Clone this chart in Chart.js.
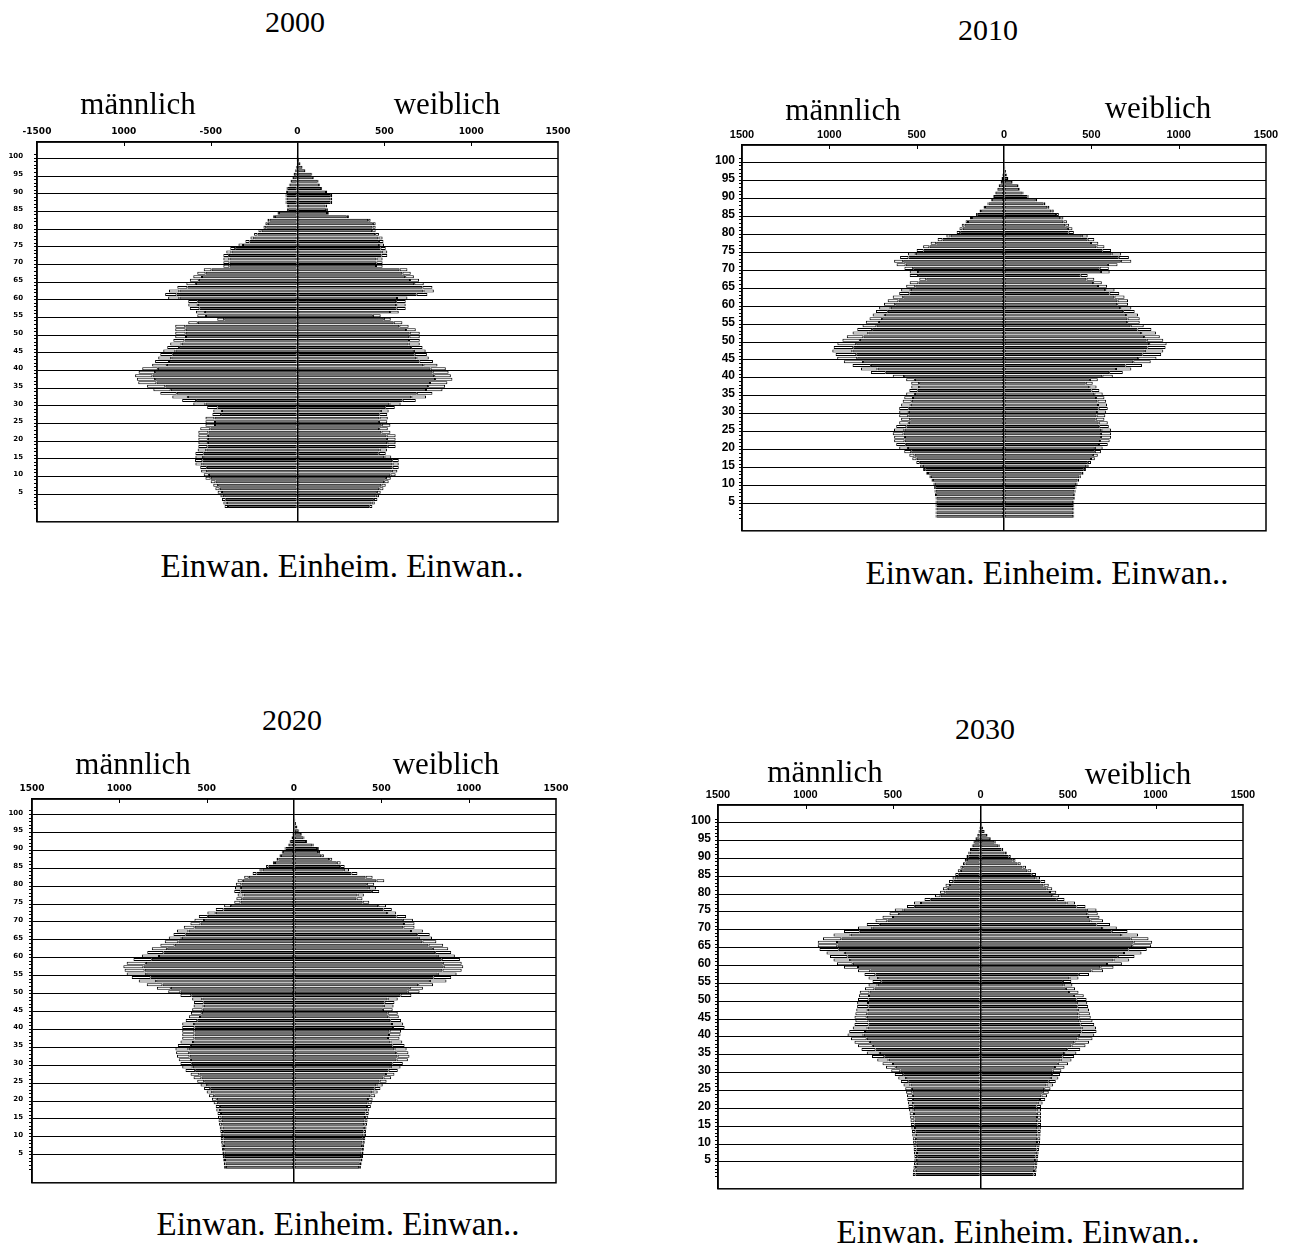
<!DOCTYPE html>
<html>
<head>
<meta charset="utf-8">
<script src="https://cdn.jsdelivr.net/npm/chart.js@4.4.1/dist/chart.umd.min.js"></script>
<style>
  html, body { margin: 0; padding: 0; background: #fff; }
  body { width: 1294px; height: 1248px; position: relative; overflow: hidden;
         font-family: "Liberation Serif", "DejaVu Serif", serif; color: #000; }
  .txt { position: absolute; transform: translate(-50%, -50%); white-space: nowrap; line-height: 1; }
  .year { font-size: 30px; }
  .sex { font-size: 31px; }
  .cap { font-size: 33px; }
  canvas { position: absolute; }
</style>
</head>
<body>
<script>
// Age groups, one bar per year of age
const ages = Array.from({ length: 100 }, (_, i) => i + 1);

// Axis tick values and their printed labels
const xTickValues = [-1500, -1000, -500, 0, 500, 1000, 1500];
const xTickLabels2000 = ['-1500', '1000', '-500', '0', '500', '1000', '1500'];
const xTickLabels = ['1500', '1000', '500', '0', '500', '1000', '1500'];

const years = ['2000', '2010', '2020', '2030'];
const sideLabels = ['männlich', 'weiblich'];
const caption = 'Einwan. Einheim. Einwan..';

// ---------- 2000 ----------
const maleTotal2000 = [
  420, 427, 435, 444, 460, 473, 485, 500, 530, 540,
  555, 560, 588, 590, 588, 588, 575, 571, 571, 571,
  571, 571, 560, 530, 530, 530, 490, 485, 520, 600,
  664, 721, 790, 830, 866, 917, 925, 935, 915, 894,
  837, 820, 802, 790, 773, 750, 733, 715, 704, 704,
  704, 704, 629, 462, 577, 585, 620, 629, 629, 745,
  762, 740, 692, 640, 620, 600, 577, 540, 427, 427,
  427, 427, 410, 387, 340, 300, 271, 250, 225, 196,
  185, 173, 140, 115, 60, 62, 69, 69, 69, 66,
  63, 50, 40, 30, 23, 15, 10, 6, 4, 2
];
const maleEinwan2000 = [
  20, 20, 22, 22, 25, 25, 28, 28, 30, 30,
  35, 38, 40, 42, 45, 48, 50, 52, 55, 55,
  55, 58, 58, 55, 55, 52, 50, 50, 60, 70,
  80, 90, 95, 100, 105, 105, 105, 100, 95, 90,
  85, 80, 75, 72, 70, 68, 66, 64, 62, 60,
  60, 58, 55, 40, 50, 52, 55, 55, 55, 65,
  65, 60, 58, 55, 52, 50, 48, 45, 35, 35,
  35, 32, 30, 28, 26, 24, 22, 20, 18, 16,
  14, 12, 10, 8, 6, 6, 6, 6, 5, 5,
  4, 4, 3, 3, 2, 2, 1, 1, 1, 0
];
const femaleTotal2000 = [
  431, 445, 460, 470, 479, 495, 508, 525, 537, 565,
  575, 583, 583, 583, 540, 508, 515, 565, 565, 565,
  565, 535, 520, 535, 517, 520, 517, 525, 560, 594,
  681, 740, 777, 835, 850, 863, 892, 883, 870, 854,
  806, 780, 756, 745, 738, 720, 704, 704, 704, 704,
  681, 640, 604, 537, 479, 583, 623, 623, 623, 633,
  748, 785, 777, 727, 700, 670, 652, 633, 490, 490,
  490, 517, 517, 508, 498, 495, 490, 469, 450, 450,
  450, 421, 296, 180, 175, 171, 200, 200, 200, 171,
  142, 130, 121, 95, 85, 46, 30, 18, 10, 4
];
const femaleEinwan2000 = [
  18, 18, 20, 20, 22, 24, 25, 26, 28, 30,
  32, 35, 36, 38, 40, 40, 42, 45, 48, 50,
  52, 52, 50, 50, 48, 48, 46, 45, 55, 65,
  75, 85, 90, 95, 98, 100, 100, 96, 92, 88,
  82, 78, 72, 70, 68, 66, 64, 62, 60, 58,
  56, 54, 50, 40, 45, 50, 52, 55, 55, 60,
  62, 60, 58, 55, 52, 50, 48, 45, 38, 36,
  35, 34, 32, 30, 28, 26, 24, 22, 20, 18,
  16, 14, 12, 10, 10, 9, 9, 9, 8, 7,
  6, 5, 4, 4, 3, 2, 2, 1, 1, 0
];

// ---------- 2010 ----------
const maleTotal2010 = [
  392, 392, 392, 392, 392, 392, 395, 398, 400, 404,
  415, 427, 445, 463, 480, 502, 525, 542, 571, 600,
  617, 629, 629, 637, 630, 617, 600, 589, 600, 600,
  600, 589, 580, 571, 560, 542, 531, 531, 560, 637,
  762, 819, 867, 917, 955, 964, 983, 975, 954, 925,
  900, 867, 840, 810, 791, 770, 752, 733, 715, 687,
  666, 637, 600, 589, 560, 540, 485, 540, 540, 570,
  615, 629, 595, 550, 500, 463, 420, 380, 330, 271,
  255, 242, 220, 195, 160, 140, 117, 95, 75, 62,
  52, 40, 31, 20, 15, 10, 6, 4, 2, 1
];
const maleEinwan2010 = [
  5, 5, 5, 5, 5, 5, 6, 6, 6, 7,
  8, 8, 10, 12, 15, 20, 25, 30, 40, 50,
  55, 60, 62, 62, 60, 58, 55, 52, 52, 55,
  55, 55, 52, 50, 50, 48, 45, 45, 50, 65,
  85, 95, 105, 110, 115, 118, 115, 112, 108, 100,
  95, 90, 85, 80, 75, 72, 70, 68, 66, 64,
  62, 60, 58, 55, 52, 50, 40, 48, 48, 50,
  52, 52, 48, 45, 40, 36, 32, 28, 24, 20,
  18, 16, 14, 12, 10, 9, 8, 6, 5, 4,
  3, 3, 2, 2, 1, 1, 1, 0, 0, 0
];
const femaleTotal2010 = [
  402, 402, 402, 402, 402, 405, 408, 410, 415, 421,
  430, 440, 455, 469, 485, 498, 520, 537, 555, 565,
  594, 605, 613, 613, 613, 600, 594, 575, 580, 585,
  594, 590, 585, 575, 565, 546, 530, 508, 537, 623,
  680, 729, 790, 840, 873, 900, 912, 925, 931, 912,
  892, 870, 844, 800, 777, 777, 767, 748, 729, 710,
  710, 690, 660, 633, 590, 560, 517, 479, 605, 600,
  650, 729, 715, 671, 613, 575, 540, 517, 479, 400,
  392, 373, 360, 340, 314, 285, 260, 237, 190, 141,
  112, 90, 83, 50, 25, 18, 12, 8, 5, 3
];
const femaleEinwan2010 = [
  5, 5, 5, 5, 5, 5, 6, 6, 6, 7,
  8, 8, 10, 12, 14, 18, 22, 28, 35, 45,
  50, 55, 58, 58, 56, 55, 52, 50, 50, 52,
  52, 52, 50, 48, 48, 45, 42, 40, 45, 60,
  78, 88, 95, 100, 105, 108, 106, 104, 100, 95,
  90, 85, 80, 75, 72, 70, 68, 66, 64, 62,
  60, 58, 56, 54, 52, 50, 45, 40, 50, 52,
  55, 60, 58, 55, 50, 46, 42, 38, 34, 30,
  26, 22, 20, 18, 16, 14, 12, 10, 8, 6,
  5, 4, 3, 3, 2, 2, 1, 1, 0, 0
];

// ---------- 2020 ----------
const maleTotal2020 = [
  400, 402, 405, 408, 410, 412, 415, 417, 419, 420,
  422, 425, 429, 432, 435, 438, 445, 448, 460, 470,
  487, 500, 515, 535, 554, 575, 592, 621, 640, 650,
  660, 670, 675, 679, 665, 650, 640, 640, 640, 640,
  640, 620, 602, 590, 583, 575, 573, 583, 650, 720,
  785, 843, 889, 929, 958, 970, 977, 958, 919, 871,
  840, 814, 765, 740, 717, 690, 670, 631, 593, 570,
  545, 496, 448, 400, 342, 330, 323, 342, 338, 333,
  323, 285, 237, 198, 160, 121, 100, 83, 70, 54,
  35, 25, 15, 10, 6, 4, 3, 2, 1, 1
];
const maleEinwan2020 = [
  10, 10, 10, 12, 12, 12, 14, 14, 15, 15,
  16, 16, 18, 18, 20, 20, 22, 24, 26, 28,
  30, 32, 35, 38, 40, 45, 50, 55, 60, 65,
  70, 72, 75, 75, 75, 72, 70, 70, 70, 70,
  68, 66, 64, 62, 60, 58, 56, 58, 62, 70,
  80, 90, 100, 108, 112, 115, 115, 110, 105, 98,
  92, 88, 82, 78, 74, 70, 66, 62, 58, 55,
  52, 48, 44, 40, 36, 34, 34, 36, 34, 32,
  30, 26, 22, 18, 15, 12, 10, 8, 6, 5,
  4, 3, 2, 2, 1, 1, 1, 0, 0, 0
];
const femaleTotal2020 = [
  383, 387, 392, 395, 398, 400, 402, 405, 408, 412,
  412, 415, 418, 421, 425, 428, 431, 440, 445, 450,
  465, 479, 495, 508, 530, 556, 575, 594, 610, 623,
  652, 661, 655, 645, 633, 620, 604, 610, 613, 633,
  625, 613, 600, 594, 565, 570, 575, 594, 672, 719,
  738, 796, 873, 900, 931, 960, 969, 960, 950, 921,
  900, 883, 854, 815, 790, 777, 738, 690, 690, 681,
  642, 585, 560, 527, 431, 392, 400, 488, 470, 459,
  517, 450, 363, 315, 290, 267, 219, 171, 150, 142,
  113, 75, 60, 46, 30, 20, 12, 8, 5, 3
];
const femaleEinwan2020 = [
  10, 10, 10, 11, 11, 12, 12, 13, 14, 14,
  15, 15, 16, 17, 18, 19, 20, 22, 24, 26,
  28, 30, 33, 36, 40, 44, 48, 52, 56, 60,
  65, 68, 70, 70, 70, 68, 66, 66, 66, 66,
  64, 62, 60, 58, 56, 56, 56, 58, 62, 68,
  75, 85, 95, 102, 108, 110, 112, 108, 104, 98,
  92, 88, 84, 80, 76, 72, 68, 64, 60, 58,
  55, 52, 48, 45, 38, 34, 36, 42, 42, 42,
  45, 40, 34, 30, 26, 22, 18, 15, 12, 10,
  8, 6, 5, 4, 3, 2, 1, 1, 0, 0
];

// ---------- 2030 ----------
const maleTotal2030 = [
  387, 385, 383, 380, 378, 378, 380, 382, 383, 385,
  387, 390, 392, 395, 398, 400, 402, 405, 408, 412,
  415, 418, 420, 425, 430, 440, 455, 470, 490, 510,
  540, 560, 590, 620, 650, 680, 700, 720, 740, 760,
  750, 730, 720, 715, 720, 715, 710, 705, 705, 700,
  695, 690, 660, 640, 617, 640, 663, 700, 780, 820,
  840, 860, 880, 920, 930, 930, 900, 840, 780, 700,
  650, 600, 560, 520, 490, 420, 380, 320, 260, 231,
  215, 200, 180, 160, 144, 130, 115, 100, 90, 80,
  70, 60, 50, 40, 30, 20, 12, 8, 4, 2
];
const maleEinwan2030 = [
  15, 15, 15, 16, 16, 16, 17, 17, 18, 18,
  19, 20, 20, 21, 22, 23, 24, 25, 26, 28,
  30, 32, 34, 36, 38, 40, 42, 45, 48, 52,
  56, 60, 65, 70, 75, 80, 85, 88, 90, 92,
  90, 85, 80, 75, 70, 68, 66, 64, 62, 60,
  58, 56, 54, 52, 50, 55, 62, 70, 80, 90,
  95, 100, 105, 110, 112, 110, 105, 98, 90, 82,
  75, 68, 60, 55, 50, 45, 40, 36, 32, 30,
  28, 26, 24, 22, 20, 18, 16, 14, 12, 10,
  8, 6, 5, 4, 3, 2, 1, 1, 0, 0
];
const femaleTotal2030 = [
  317, 320, 322, 325, 327, 330, 332, 335, 337, 340,
  342, 343, 344, 345, 346, 346, 346, 346, 346, 346,
  355, 370, 380, 390, 400, 415, 430, 445, 455, 462,
  480, 500, 520, 535, 548, 570, 600, 620, 640, 650,
  663, 660, 650, 640, 630, 625, 620, 615, 610, 606,
  590, 560, 540, 525, 519, 560, 620, 700, 760, 808,
  850, 880, 920, 950, 975, 981, 960, 900, 840, 779,
  740, 700, 680, 670, 663, 600, 540, 480, 450, 433,
  410, 390, 370, 340, 317, 290, 260, 230, 200, 173,
  150, 130, 110, 87, 60, 40, 25, 15, 8, 3
];
const femaleEinwan2030 = [
  14, 14, 14, 15, 15, 15, 16, 16, 17, 17,
  18, 18, 19, 20, 21, 22, 23, 24, 25, 26,
  28, 30, 32, 34, 36, 38, 40, 43, 46, 50,
  54, 58, 62, 66, 70, 75, 80, 84, 86, 88,
  86, 82, 78, 74, 70, 66, 64, 62, 60, 58,
  56, 54, 52, 50, 48, 52, 58, 66, 75, 85,
  90, 95, 100, 105, 108, 106, 102, 96, 90, 84,
  78, 72, 66, 60, 56, 52, 48, 44, 40, 36,
  32, 30, 28, 26, 24, 22, 20, 18, 16, 14,
  12, 10, 8, 6, 4, 3, 2, 1, 1, 0
];

// Series grouped per year (built from the arrays above)
const seriesByYear = {
  '2000': { mT: maleTotal2000, mE: maleEinwan2000, fT: femaleTotal2000, fE: femaleEinwan2000, xl: xTickLabels2000 },
  '2010': { mT: maleTotal2010, mE: maleEinwan2010, fT: femaleTotal2010, fE: femaleEinwan2010, xl: xTickLabels },
  '2020': { mT: maleTotal2020, mE: maleEinwan2020, fT: femaleTotal2020, fE: femaleEinwan2020, xl: xTickLabels },
  '2030': { mT: maleTotal2030, mE: maleEinwan2030, fT: femaleTotal2030, fE: femaleEinwan2030, xl: xTickLabels }
};

// Page layout of the four pyramids: plot box [left, top, right, bottom], age range, text anchors
const layout = {
  '2000': { box: [37, 142, 558, 527], yMin: -2.8, yMax: 103.6, title: [295, 22], m: [138, 103], w: [447, 103], cap: [342, 566],
            xFont: 9, yFont: 7, xFam: 'DejaVu Sans', yPad: 11, xPad: 5 },
  '2010': { box: [742, 145, 1266, 532], yMin: -2.5, yMax: 103.8, title: [988, 30], m: [843, 109], w: [1158, 107], cap: [1047, 573],
            xFont: 11, yFont: 12, xFam: 'Liberation Sans', yPad: 4, xPad: 3 },
  '2020': { box: [32, 799, 556, 1183], yMin: -2.8, yMax: 103.3, title: [292, 720], m: [133, 763], w: [446, 763], cap: [338, 1224],
            xFont: 9, yFont: 7, xFam: 'DejaVu Sans', yPad: 6, xPad: 5 },
  '2030': { box: [718, 805, 1243, 1190], yMin: -2.5, yMax: 103.9, title: [985, 729], m: [825, 771], w: [1138, 773], cap: [1018, 1232],
            xFont: 11, yFont: 12, xFam: 'Liberation Sans', yPad: 4, xPad: 3 }
};

function addText(cls, text, pos) {
  const d = document.createElement('div');
  d.className = 'txt ' + cls;
  d.textContent = text;
  d.style.left = pos[0] + 'px';
  d.style.top = pos[1] + 'px';
  document.body.appendChild(d);
}

// Frame round the plot and short inner marks under the top axis
const framePlugin = {
  id: 'frame',
  afterDraw(chart) {
    const { ctx, chartArea: a, scales: { x } } = chart;
    ctx.save();
    ctx.strokeStyle = '#000';
    ctx.lineWidth = 1.5;
    ctx.strokeRect(a.left, a.top, a.right - a.left, a.bottom - a.top);
    ctx.lineWidth = 1;
    [-1000, -500, 500, 1000].forEach(v => {
      const px = Math.round(x.getPixelForValue(v)) + 0.5;
      ctx.beginPath();
      ctx.moveTo(px, a.top);
      ctx.lineTo(px, a.top + 4);
      ctx.stroke();
    });
    ctx.restore();
  }
};

function buildPyramid(year) {
  const s = seriesByYear[year];
  const L = layout[year];
  const padL = 50, padT = 30, padR = 30, padB = 10;
  const [l, t, r, b] = L.box;
  const W = (r - l) + padL + padR;
  const H = (b - t) + padT + padB;

  const cv = document.createElement('canvas');
  cv.width = W; cv.height = H;
  cv.style.left = (l - padL) + 'px';
  cv.style.top = (t - padT) + 'px';
  cv.style.width = W + 'px';
  cv.style.height = H + 'px';
  document.body.appendChild(cv);

  // native part shaded, immigrant end boxes open
  const nativeStyle = {
    backgroundColor: '#5e5e5e',
    borderColor: '#000000',
    borderWidth: 1,
    borderSkipped: false,
    categoryPercentage: 0.84,
    barPercentage: 1.0
  };
  const immigrantStyle = Object.assign({}, nativeStyle, { backgroundColor: '#ffffff' });

  new Chart(cv, {
    type: 'bar',
    data: {
      labels: ages,
      datasets: [
        Object.assign({ label: 'Einheim. männlich', data: s.mT.map((v, i) => -(v - s.mE[i])) }, nativeStyle),
        Object.assign({ label: 'Einwan. männlich', data: s.mE.map(v => -v) }, immigrantStyle),
        Object.assign({ label: 'Einheim. weiblich', data: s.fT.map((v, i) => v - s.fE[i]) }, nativeStyle),
        Object.assign({ label: 'Einwan. weiblich', data: s.fE.slice() }, immigrantStyle)
      ]
    },
    options: {
      responsive: false,
      animation: false,
      indexAxis: 'y',
      layout: { padding: { left: 0, top: 0, right: padR, bottom: padB } },
      plugins: { legend: { display: false }, tooltip: { enabled: false } },
      scales: {
        x: {
          type: 'linear',
          position: 'top',
          stacked: true,
          min: -1500,
          max: 1500,
          z: 1,
          afterFit: sc => { sc.height = padT; },
          afterBuildTicks: sc => { sc.ticks = xTickValues.map(v => ({ value: v })); },
          ticks: {
            color: '#000',
            padding: L.xPad,
            maxRotation: 0,
            autoSkip: false,
            font: { family: L.xFam, size: L.xFont, weight: 'bold' },
            callback: v => s.xl[xTickValues.indexOf(v)]
          },
          grid: {
            drawTicks: false,
            lineWidth: 1.5,
            color: c => (c.tick && c.tick.value === 0) ? '#000' : 'rgba(0,0,0,0)'
          },
          border: { display: true, color: '#000', width: 1.5 }
        },
        y: {
          type: 'linear',
          stacked: true,
          min: L.yMin,
          max: L.yMax,
          afterFit: sc => { sc.width = padL; },
          afterBuildTicks: sc => { sc.ticks = ages.map(v => ({ value: v })); },
          ticks: {
            color: '#000',
            padding: L.yPad,
            autoSkip: false,
            font: { family: L.xFam, size: L.yFont, weight: 'bold' },
            callback: v => (v % 5 === 0) ? String(v) : ''
          },
          grid: {
            drawTicks: true,
            tickLength: 3,
            tickColor: '#000',
            lineWidth: 1,
            color: c => (c.tick && c.tick.value % 5 === 0) ? '#000' : 'rgba(0,0,0,0)'
          },
          border: { display: true, color: '#000', width: 1.5 }
        }
      }
    },
    plugins: [framePlugin]
  });

  addText('year', year, L.title);
  addText('sex', sideLabels[0], L.m);
  addText('sex', sideLabels[1], L.w);
  addText('cap', caption, L.cap);
}

years.forEach(buildPyramid);
</script>
</body>
</html>
